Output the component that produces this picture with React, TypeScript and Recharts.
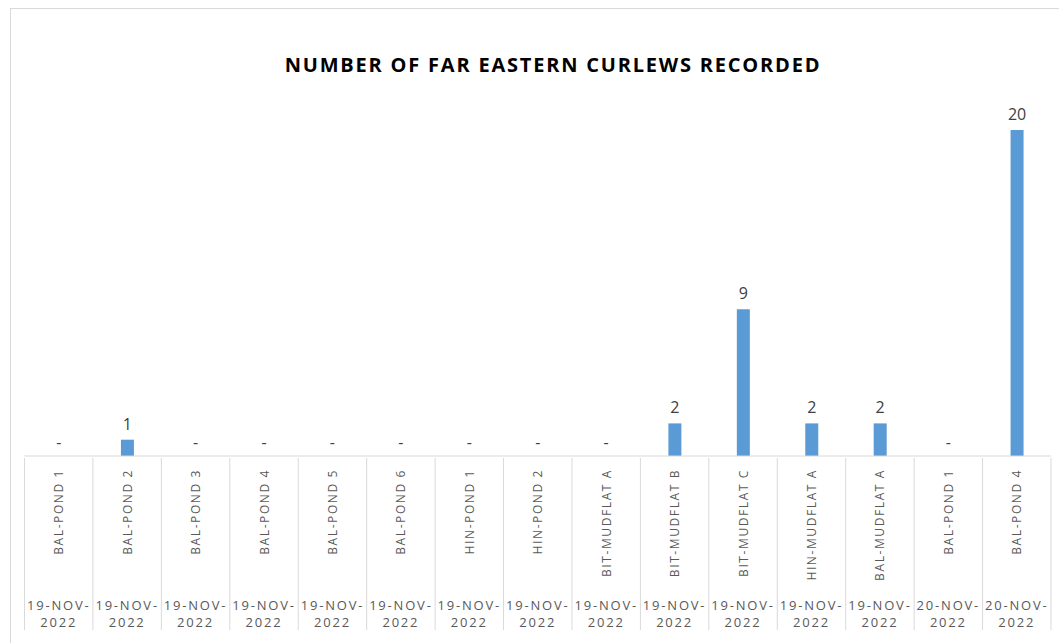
import { BarChart, Bar, XAxis, YAxis, LabelList } from "recharts";

const SITES = [
  "BAL-POND 1",
  "BAL-POND 2",
  "BAL-POND 3",
  "BAL-POND 4",
  "BAL-POND 5",
  "BAL-POND 6",
  "HIN-POND 1",
  "HIN-POND 2",
  "BIT-MUDFLAT A",
  "BIT-MUDFLAT B",
  "BIT-MUDFLAT C",
  "HIN-MUDFLAT A",
  "BAL-MUDFLAT A",
  "BAL-POND 1",
  "BAL-POND 4",
];

const DATES = [
  "19-NOV-2022",
  "19-NOV-2022",
  "19-NOV-2022",
  "19-NOV-2022",
  "19-NOV-2022",
  "19-NOV-2022",
  "19-NOV-2022",
  "19-NOV-2022",
  "19-NOV-2022",
  "19-NOV-2022",
  "19-NOV-2022",
  "19-NOV-2022",
  "19-NOV-2022",
  "20-NOV-2022",
  "20-NOV-2022",
];

const COUNTS = [0, 1, 0, 0, 0, 0, 0, 0, 0, 2, 9, 2, 2, 0, 20];

const data = SITES.map((site, i) => ({
  id: i,
  site,
  date: DATES[i],
  count: COUNTS[i],
}));

const WIDTH = 1059;
const HEIGHT = 643;
const MARGIN = { top: 130, right: 8, bottom: 0, left: 24.5 };
const AXIS_HEIGHT = 187;
const BAND = (WIDTH - MARGIN.left - MARGIN.right) / data.length;
const GRID = "#D9D9D9";
const FONT = "'Open Sans', 'Noto Sans', sans-serif";

// two-level category label: rotated site name plus the date underneath,
// with a separator line between categories
function SiteTick(props: any) {
  const { x, y, payload } = props;
  const i = payload.index;
  const row = data[i];
  const [d1, d2] = [row.date.slice(0, 7), row.date.slice(7)];
  const left = x - BAND / 2;
  const right = x + BAND / 2;
  const bottom = y + 172;
  return (
    <g>
      {/* zero-height bars get no label from LabelList, so the dash goes here */}
      {row.count === 0 && (
        <text
          x={x}
          y={y - 16}
          textAnchor="middle"
          dominantBaseline="central"
          fontSize={16}
          fill="#404040"
          fontFamily={FONT}
        >
          -
        </text>
      )}
      <line x1={left} x2={left} y1={y} y2={bottom} stroke={GRID} />
      {i === data.length - 1 && (
        <line x1={right} x2={right} y1={y} y2={bottom} stroke={GRID} />
      )}
      <text
        x={x}
        y={y + 11}
        transform={`rotate(-90, ${x}, ${y + 11})`}
        textAnchor="end"
        dominantBaseline="central"
        fontSize={12}
        letterSpacing={1.6}
        fill="#595959"
        fontFamily={FONT}
      >
        {row.site}
      </text>
      <text
        x={x}
        y={y + 147}
        textAnchor="middle"
        dominantBaseline="central"
        fontSize={13}
        letterSpacing={1.8}
        fill="#595959"
        fontFamily={FONT}
      >
        {d1}
      </text>
      <text
        x={x}
        y={y + 164}
        textAnchor="middle"
        dominantBaseline="central"
        fontSize={13}
        letterSpacing={1.8}
        fill="#595959"
        fontFamily={FONT}
      >
        {d2}
      </text>
    </g>
  );
}

function CountLabel(props: any) {
  const { x, y, width, value } = props;
  if (!value) return null;
  return (
    <text
      x={x + width / 2}
      y={y - 16}
      textAnchor="middle"
      dominantBaseline="central"
      fontSize={16}
      fill="#404040"
      fontFamily={FONT}
    >
      {value}
    </text>
  );
}

export default function App() {
  return (
    <div
      style={{
        position: "fixed",
        left: 0,
        top: 0,
        width: WIDTH,
        height: HEIGHT,
        overflow: "hidden",
        background: "#fff",
      }}
    >
      <div
        style={{
          position: "absolute",
          left: 10,
          top: 8,
          width: 1200,
          height: 800,
          border: `1px solid ${GRID}`,
          boxSizing: "border-box",
        }}
      />
      <div
        style={{
          position: "absolute",
          left: 0,
          width: 1106,
          top: 52,
          textAlign: "center",
          fontFamily: FONT,
          fontWeight: 700,
          fontSize: 20,
          letterSpacing: 1.8,
          color: "#000",
          lineHeight: "26px",
        }}
      >
        NUMBER OF FAR EASTERN CURLEWS RECORDED
      </div>
      <div style={{ position: "absolute", left: 0, top: 0 }}>
        <BarChart width={WIDTH} height={HEIGHT} data={data} margin={MARGIN}>
          <XAxis
            dataKey="id"
            interval={0}
            height={AXIS_HEIGHT}
            tickLine={false}
            tickSize={0}
            tick={<SiteTick />}
            axisLine={{ stroke: GRID }}
          />
          <YAxis hide domain={[0, 20]} />
          <Bar
            dataKey="count"
            fill="#5B9BD5"
            barSize={13}
            isAnimationActive={false}
          >
            <LabelList dataKey="count" content={<CountLabel />} />
          </Bar>
        </BarChart>
      </div>
    </div>
  );
}
